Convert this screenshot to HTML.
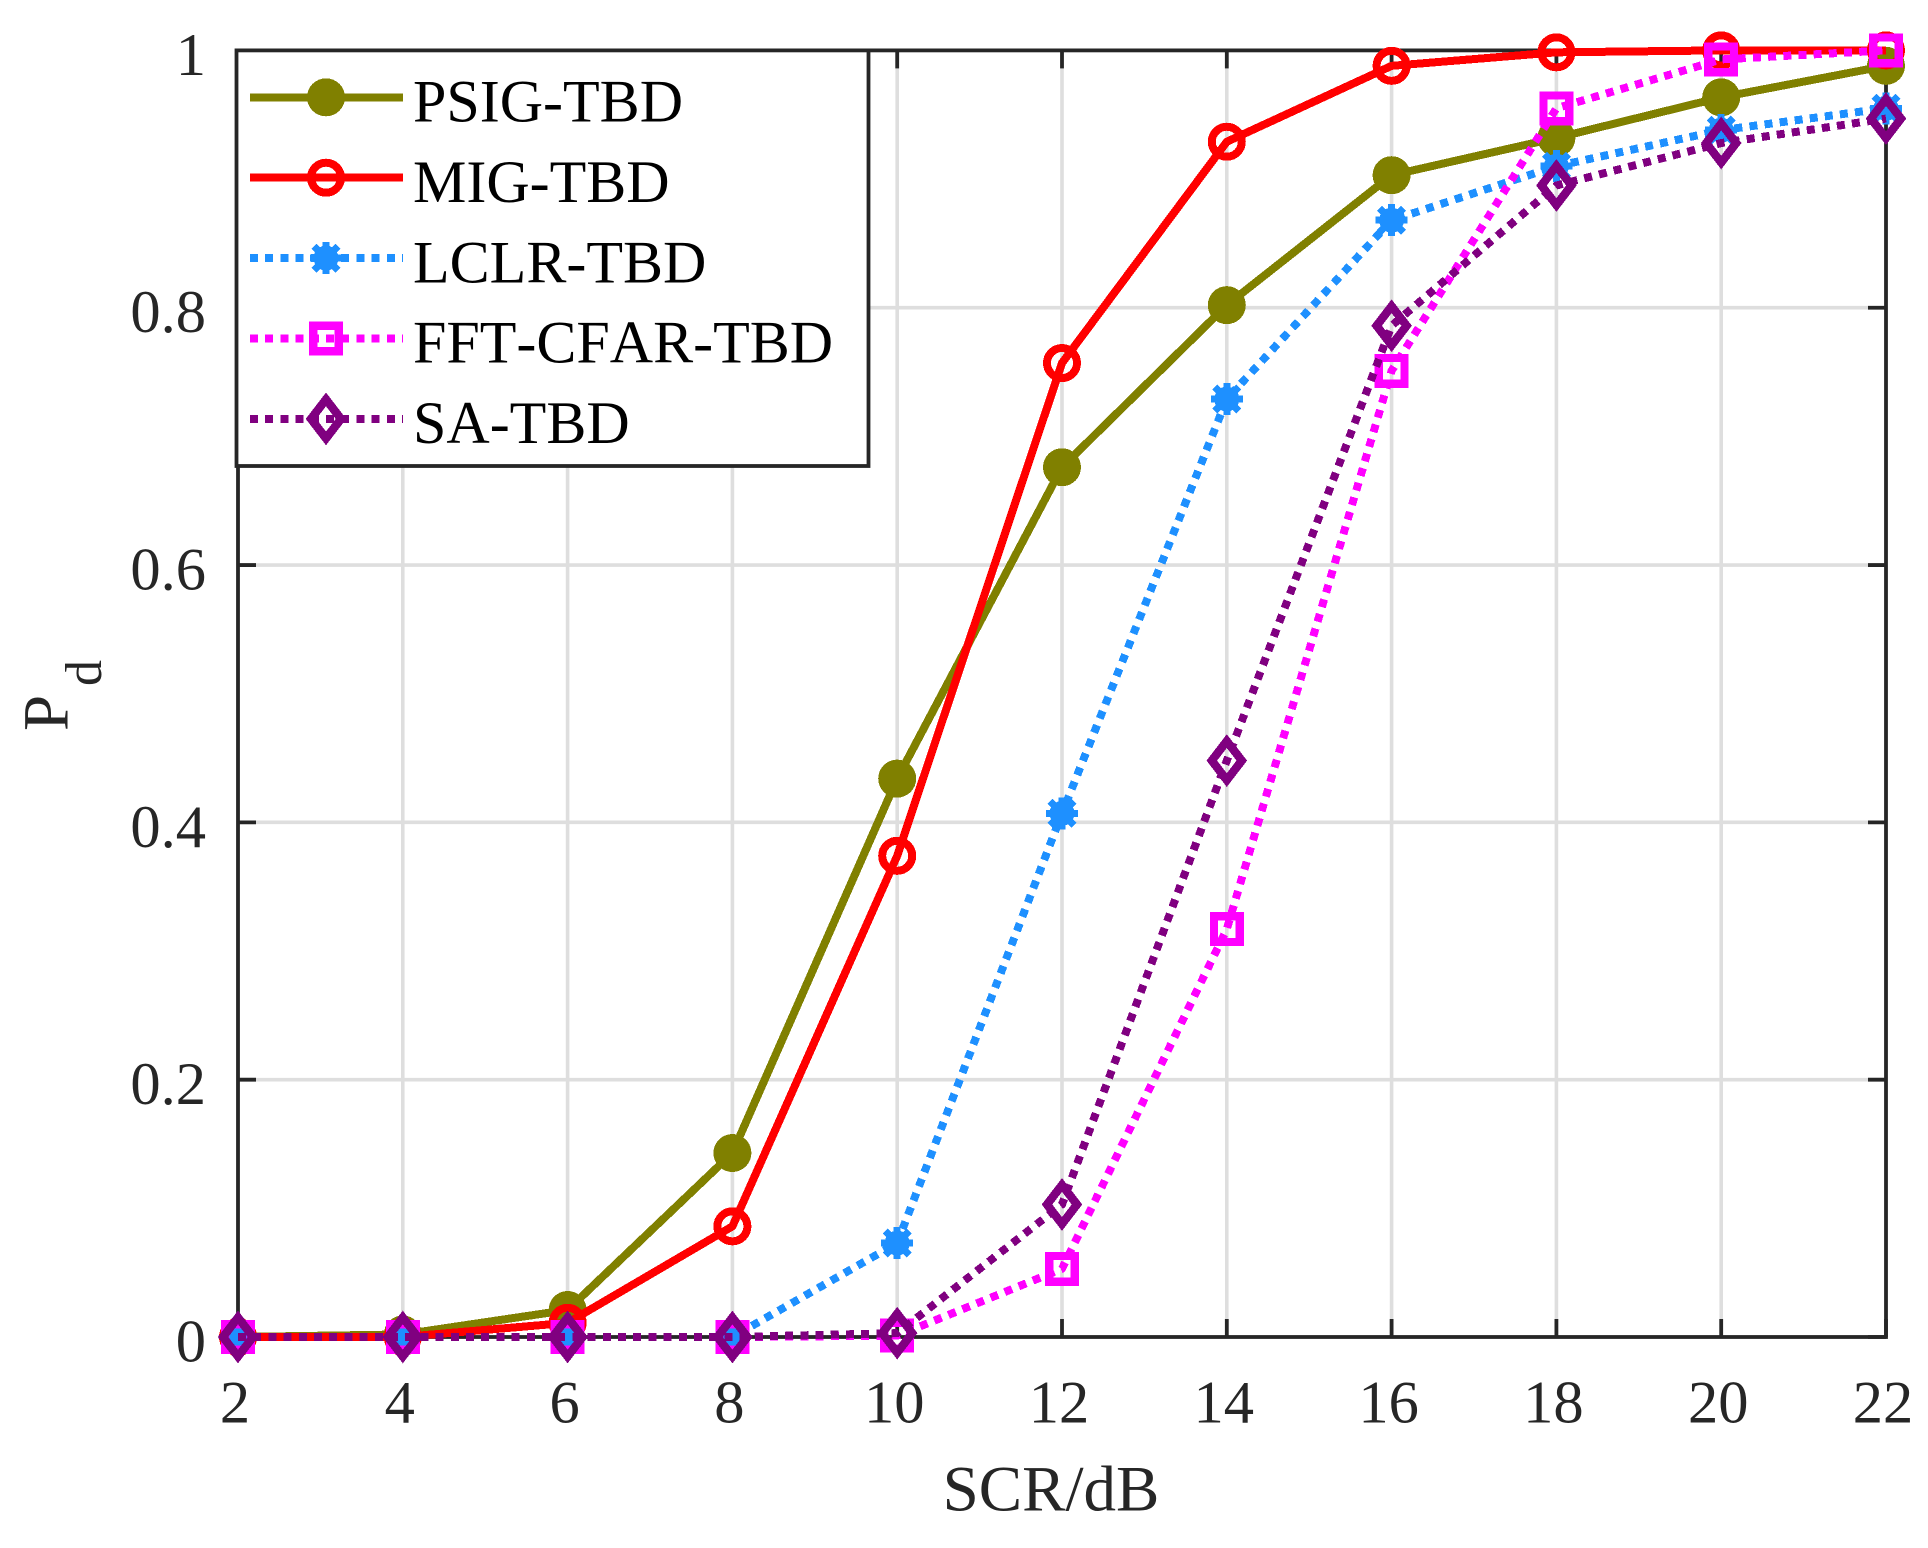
<!DOCTYPE html>
<html lang="en">
<head>
<meta charset="utf-8">
<title>Pd vs SCR</title>
<style>
html,body{margin:0;padding:0;background:#fff;width:1928px;height:1548px;overflow:hidden}
svg{display:block;font-family:"Liberation Serif","Times New Roman",serif;font-kerning:none}
#series{shape-rendering:crispEdges}
</style>
</head>
<body>
<svg id="chart" xmlns="http://www.w3.org/2000/svg" width="1928" height="1548" viewBox="0 0 1928 1548">
  <rect x="0" y="0" width="1928" height="1548" fill="#ffffff"/>
  <g id="grid"></g>
  <g id="axes"></g>
  <g id="series"></g>
  <text x="1051" y="1510.5" font-size="65" fill="#262626" text-anchor="middle">SCR/dB</text>
  <g fill="#262626">
    <text transform="translate(67.5,731) rotate(-90)" font-size="65">P</text>
    <text transform="translate(101,686) rotate(-90)" font-size="52">d</text>
  </g>
  <g id="legend"></g>
</svg>
<script>
var categories = [2, 4, 6, 8, 10, 12, 14, 16, 18, 20, 22];
var psigValues = [0, 0.002, 0.021, 0.143, 0.434, 0.676, 0.802, 0.903, 0.932, 0.9635, 0.988];
var migValues = [0, 0, 0.011, 0.086, 0.374, 0.757, 0.929, 0.988, 0.9985, 1, 1];
var lclrValues = [0, 0, 0, 0, 0.073, 0.407, 0.729, 0.868, 0.91, 0.938, 0.955];
var fftValues = [0, 0, 0, 0, 0.001, 0.053, 0.317, 0.751, 0.955, 0.993, 1];
var saValues = [0, 0, 0, 0, 0.003, 0.103, 0.448, 0.786, 0.895, 0.928, 0.947];
var seriesNames = ["PSIG-TBD", "MIG-TBD", "LCLR-TBD", "FFT-CFAR-TBD", "SA-TBD"];
var xTickValues = [2, 4, 6, 8, 10, 12, 14, 16, 18, 20, 22];
var yTickValues = [0, 0.2, 0.4, 0.6, 0.8, 1];
var yTickLabels = ["0", "0.2", "0.4", "0.6", "0.8", "1"];

var NS = "http://www.w3.org/2000/svg";
var LEFT = 238, RIGHT = 1886, TOP = 50.4, BOTTOM = 1337;
var AXIS = "#262626", GRID = "#dedede", AW = 3.8;

function xScale(v) { return LEFT + (v - 2) / 20 * (RIGHT - LEFT); }
function yScale(v) { return BOTTOM - v * (BOTTOM - TOP); }

function make(parent, tag, attrs, text) {
  var el = document.createElementNS(NS, tag);
  for (var k in attrs) { el.setAttribute(k, attrs[k]); }
  if (text !== undefined) { el.textContent = text; }
  parent.appendChild(el);
  return el;
}

var gridG = document.getElementById("grid");
var axesG = document.getElementById("axes");
var seriesG = document.getElementById("series");
var legendG = document.getElementById("legend");

/* grid */
xTickValues.forEach(function (v) {
  if (v === 2 || v === 22) { return; }
  var g = make(gridG, "line", { x1: xScale(v), x2: xScale(v), y1: TOP, y2: BOTTOM, stroke: GRID, "stroke-width": 3.6 });
  
  
});
yTickValues.forEach(function (v) {
  if (v === 0 || v === 1) { return; }
  var g = make(gridG, "line", { x1: LEFT, x2: RIGHT, y1: yScale(v), y2: yScale(v), stroke: GRID, "stroke-width": 3.6 });
  
  
});

/* axes box */
var box = make(axesG, "rect", { x: LEFT, y: TOP, width: RIGHT - LEFT, height: BOTTOM - TOP, fill: "none", stroke: AXIS, "stroke-width": AW });



/* x ticks */
xTickValues.forEach(function (v) {
  var x = xScale(v);
  var t1 = make(axesG, "line", { x1: x, x2: x, y1: BOTTOM, y2: BOTTOM - 18, stroke: AXIS, "stroke-width": AW });
  
  
  var t2 = make(axesG, "line", { x1: x, x2: x, y1: TOP, y2: TOP + 18, stroke: AXIS, "stroke-width": AW });
  
  
  var lab = make(axesG, "text", { x: x - 3, y: 1422.5, "font-size": 60.5, fill: AXIS, "text-anchor": "middle" }, String(v));
  
  
});

/* y ticks */
yTickValues.forEach(function (v, i) {
  var y = yScale(v);
  var t1 = make(axesG, "line", { x1: LEFT, x2: LEFT + 18, y1: y, y2: y, stroke: AXIS, "stroke-width": AW });
  
  
  var t2 = make(axesG, "line", { x1: RIGHT, x2: RIGHT - 18, y1: y, y2: y, stroke: AXIS, "stroke-width": AW });
  
  
  var lab = make(axesG, "text", { x: 206, y: y + 24.4, "font-size": 60.5, fill: AXIS, "text-anchor": "end" }, yTickLabels[i]);
  
  
});

/* markers */
function drawMarker(parent, kind, x, y, color) {
  var m;
  if (kind === "disc") {
    m = make(parent, "circle", { cx: x, cy: y, r: 19, fill: color });
  } else if (kind === "ring") {
    m = make(parent, "circle", { cx: x, cy: y, r: 15, fill: "none", stroke: color, "stroke-width": 8 });
  } else if (kind === "star") {
    m = make(parent, "g", { stroke: color, "stroke-width": 7, fill: color });
    make(m, "line", { x1: x - 16, x2: x + 16, y1: y, y2: y });
    make(m, "line", { x1: x, x2: x, y1: y - 16, y2: y + 16 });
    make(m, "line", { x1: x - 12, x2: x + 12, y1: y - 12, y2: y + 12 });
    make(m, "line", { x1: x - 12, x2: x + 12, y1: y + 12, y2: y - 12 });
    make(m, "circle", { cx: x, cy: y, r: 12.5, stroke: "none" });
  } else if (kind === "square") {
    m = make(parent, "rect", { x: x - 12.85, y: y - 12.85, width: 25.7, height: 25.7, fill: "none", stroke: color, "stroke-width": 8.3 });
  } else {
    var pts = [[x - 15, y], [x, y - 19.5], [x + 15, y], [x, y + 19.5]].map(function (p) { return p.join(","); }).join(" ");
    m = make(parent, "polygon", { points: pts, fill: "none", stroke: color, "stroke-width": 8.4, "stroke-miterlimit": 10 });
  }
  return m;
}

var seriesStyles = [
  { values: psigValues, color: "#808000", marker: "disc", dash: null },
  { values: migValues, color: "#ff0000", marker: "ring", dash: null },
  { values: lclrValues, color: "#1e90ff", marker: "star", dash: "8 7.2" },
  { values: fftValues, color: "#ff00ff", marker: "square", dash: "8 7.2" },
  { values: saValues, color: "#800080", marker: "diamond", dash: "8 7.2" }
];

seriesStyles.forEach(function (s, si) {
  var g = make(seriesG, "g", {});
  
  
  var pts = s.values.map(function (v, i) { return xScale(categories[i]) + "," + yScale(v); }).join(" ");
  var line = make(g, "polyline", { points: pts, fill: "none", stroke: s.color, "stroke-width": 8, "stroke-linejoin": "round" });
  if (s.dash) { line.setAttribute("stroke-dasharray", s.dash); }
  
  
  s.values.forEach(function (v, i) {
    var m = drawMarker(g, s.marker, xScale(categories[i]), yScale(v), s.color);
    
    
  });
});

/* legend */
var legendBox = make(legendG, "rect", { x: 236.5, y: 50.4, width: 632, height: 415.6, fill: "#ffffff", stroke: AXIS, "stroke-width": 3.8 });



seriesStyles.forEach(function (s, i) {
  var rowY = 97.3 + i * 80.4;
  var row = make(legendG, "g", {});
  
  
  var sample = make(row, "line", { x1: 250, x2: 403, y1: rowY, y2: rowY, stroke: s.color, "stroke-width": 8, "shape-rendering": "crispEdges" });
  if (s.dash) { sample.setAttribute("stroke-dasharray", s.dash); }
  
  
  var mk = drawMarker(row, s.marker, 326, rowY, s.color);
  mk.setAttribute("shape-rendering", "crispEdges");
  
  
  var label = make(row, "text", { x: 413, y: rowY + 24.2, "font-size": 60, fill: "#000000" }, seriesNames[i]);
  
  
});
</script>
</body>
</html>
